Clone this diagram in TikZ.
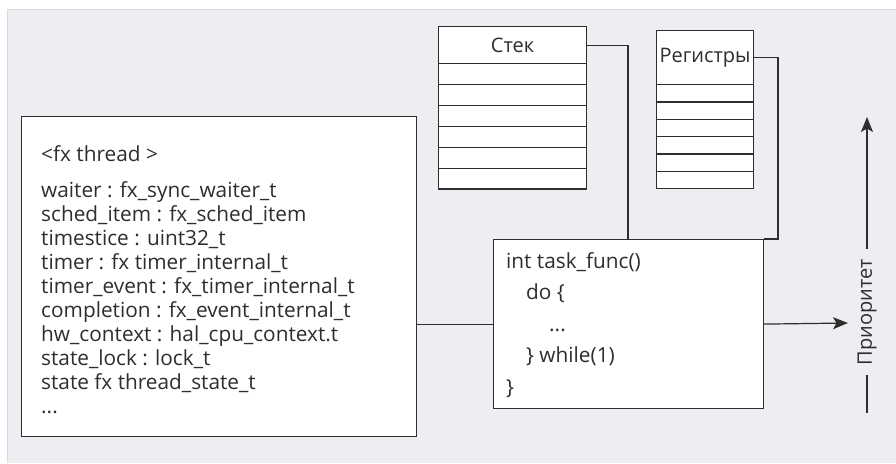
\documentclass[tikz,border=0pt]{standalone}
\usepackage{fontspec}
\setmainfont{Open Sans}
\usetikzlibrary{arrows.meta, positioning}
\definecolor{panelgrey}{HTML}{EEEEF2}
\definecolor{ink}{HTML}{2E2E2E}

\begin{document}
\begin{tikzpicture}[x=1pt, y=-1pt, >={Stealth[length=15pt, width=12pt, inset=3.5pt]}]
    % Styles
    \tikzstyle{frame} = [rectangle, draw=ink, fill=white, line width=1.2pt, inner sep=0pt, anchor=north west]
    \tikzstyle{cell} = [frame, text=ink, font=\fontsize{20}{24}\selectfont]
    \tikzstyle{line} = [draw=ink, line width=1.2pt]
    % base of a multi-line listing sits on its last line
    \tikzstyle{listing} = [anchor=base west, align=left, inner sep=0pt, text=ink, font=\fontsize{20.8}{24}\selectfont]

    % Panel
    \useasboundingbox (0,0) rectangle (896,463);
    \fill[panelgrey] (7,9) rectangle (896,463);
    \draw[black!15, line width=0.8pt] (7,463) -- (7,9) -- (896,9);

    % Thread descriptor
    \node [frame, minimum width=395pt, minimum height=320pt] (thread) at (21,116) {};
    \node [listing] (threadname) at (41,161) {<fx thread >};
    \node [listing] (fields) at (41,413) {waiter : fx\_sync\_waiter\_t\\
        sched\_item : fx\_sched\_item\\
        timestice : uint32\_t\\
        timer : fx timer\_internal\_t\\
        timer\_event : fx\_timer\_internal\_t\\
        completion : fx\_event\_internal\_t\\
        hw\_context : hal\_cpu\_context.t\\
        state\_lock : lock\_t\\
        state fx thread\_state\_t\\
        ...};

    % Stack
    \node [cell, minimum width=148pt, minimum height=37pt] (stack) at (438,26) {Стек};
    \foreach \i in {1,...,6}
        \node [frame, minimum width=148pt, minimum height=20.9pt] (stack-\i) at (438,{63+(\i-1)*20.9}) {};

    % Registers
    \node [cell, minimum width=97pt, minimum height=54pt] (regs) at (656,30) {Регистры};
    \foreach \i in {1,...,6}
        \node [frame, minimum width=97pt, minimum height=17.33pt] (regs-\i) at (656,{84+(\i-1)*17.33}) {};

    % Task function
    \node [frame, minimum width=270pt, minimum height=169pt] (task) at (493,239) {};
    \node [listing, font=\fontsize{20.8}{31.5}\selectfont] (code) at (506,394) {int task\_func()\\
        \hspace{20pt}do \{\\
        \hspace{43pt}...\\
        \hspace{20pt}\} while(1)\\
        \}};

    % Priority axis
    \coordinate (priolo) at (867,413);
    \coordinate (priohi) at (867,117);
    \coordinate (prioin) at (848,323);
    \coordinate (stackdrop) at (628,239);
    \coordinate (regsdrop) at (778,239);

    % Paths
    \path [line] (stack.east) -| (stackdrop);
    \path [line] (regs.east) -| (regsdrop) -- (task.north east);
    \path [line] (task.west) -- (task.west -| thread.east);
    \path [line, ->] (task.east) -- (prioin);
    \path [line, ->] (priolo) -- node[pos=0.341, sloped, fill=panelgrey, inner xsep=10pt, inner ysep=2pt, text=ink, font=\fontsize{20}{24}\selectfont] (priolabel) {Приоритет} (priohi);

\end{tikzpicture}
\end{document}
